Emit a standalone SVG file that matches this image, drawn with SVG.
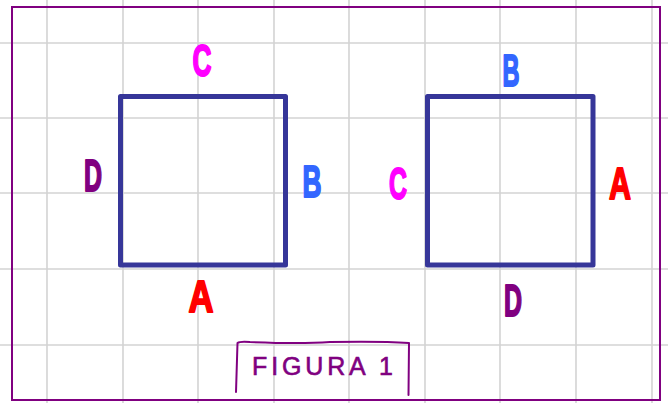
<svg xmlns="http://www.w3.org/2000/svg" width="668" height="403" viewBox="0 0 668 403">
<style>
.grid line{stroke:#d3d3d3;stroke-width:1.6}
.sq{fill:none;stroke:#363699;stroke-width:5;stroke-linejoin:round}
.lbl{font-family:"Liberation Sans",Arial,sans-serif;font-weight:bold;font-size:44px;text-anchor:middle;stroke-width:2;stroke-linejoin:round;stroke-linecap:round}
.mag{fill:#ff00ff;stroke:#ff00ff}
.pur{fill:#800080;stroke:#800080}
.blu{fill:#3366ff;stroke:#3366ff}
.red{fill:#ff0000;stroke:#ff0000}
</style>
<rect width="668" height="403" fill="#ffffff"/>
<g class="grid">
<line x1="47" y1="0" x2="47" y2="403"/>
<line x1="123" y1="0" x2="123" y2="403"/>
<line x1="198" y1="0" x2="198" y2="403"/>
<line x1="274" y1="0" x2="274" y2="403"/>
<line x1="349" y1="0" x2="349" y2="403"/>
<line x1="425" y1="0" x2="425" y2="403"/>
<line x1="500" y1="0" x2="500" y2="403"/>
<line x1="576" y1="0" x2="576" y2="403"/>
<line x1="652" y1="0" x2="652" y2="403"/>
<line x1="0" y1="43" x2="668" y2="43"/>
<line x1="0" y1="118" x2="668" y2="118"/>
<line x1="0" y1="193" x2="668" y2="193"/>
<line x1="0" y1="269" x2="668" y2="269"/>
<line x1="0" y1="345" x2="668" y2="345"/>
</g>
<rect id="frame" x="12" y="7" width="648" height="393" fill="none" stroke="#800080" stroke-width="2"/>
<g id="square1">
<rect class="sq" x="120.5" y="96.5" width="165" height="168.5"/>
<text class="lbl mag" x="202" y="76" textLength="19" lengthAdjust="spacingAndGlyphs">C</text>
<text class="lbl pur" x="93" y="191" textLength="18" lengthAdjust="spacingAndGlyphs">D</text>
<text class="lbl blu" x="312" y="197" textLength="19" lengthAdjust="spacingAndGlyphs">B</text>
<text class="lbl red" x="201" y="312" textLength="25" lengthAdjust="spacingAndGlyphs">A</text>
</g>
<g id="square2">
<rect class="sq" x="427.5" y="96.5" width="165.5" height="168.5"/>
<text class="lbl blu" x="511" y="86" textLength="17" lengthAdjust="spacingAndGlyphs">B</text>
<text class="lbl mag" x="398" y="199" textLength="18" lengthAdjust="spacingAndGlyphs">C</text>
<text class="lbl red" x="620" y="199" textLength="22" lengthAdjust="spacingAndGlyphs">A</text>
<text class="lbl pur" x="513" y="316" textLength="18" lengthAdjust="spacingAndGlyphs">D</text>
</g>
<g id="caption">
<path d="M236,392 L237.5,343 Q240,341 250,342 Q300,344 330,342 Q380,341 409,343 L408.5,395" fill="none" stroke="#800080" stroke-width="2" stroke-linecap="round" stroke-linejoin="round"/>
<text x="252" y="375" font-family="'Liberation Sans',Arial,sans-serif" font-size="25" fill="#800080" stroke="#800080" stroke-width="0.6" textLength="141" lengthAdjust="spacing">FIGURA 1</text>
</g>
</svg>
